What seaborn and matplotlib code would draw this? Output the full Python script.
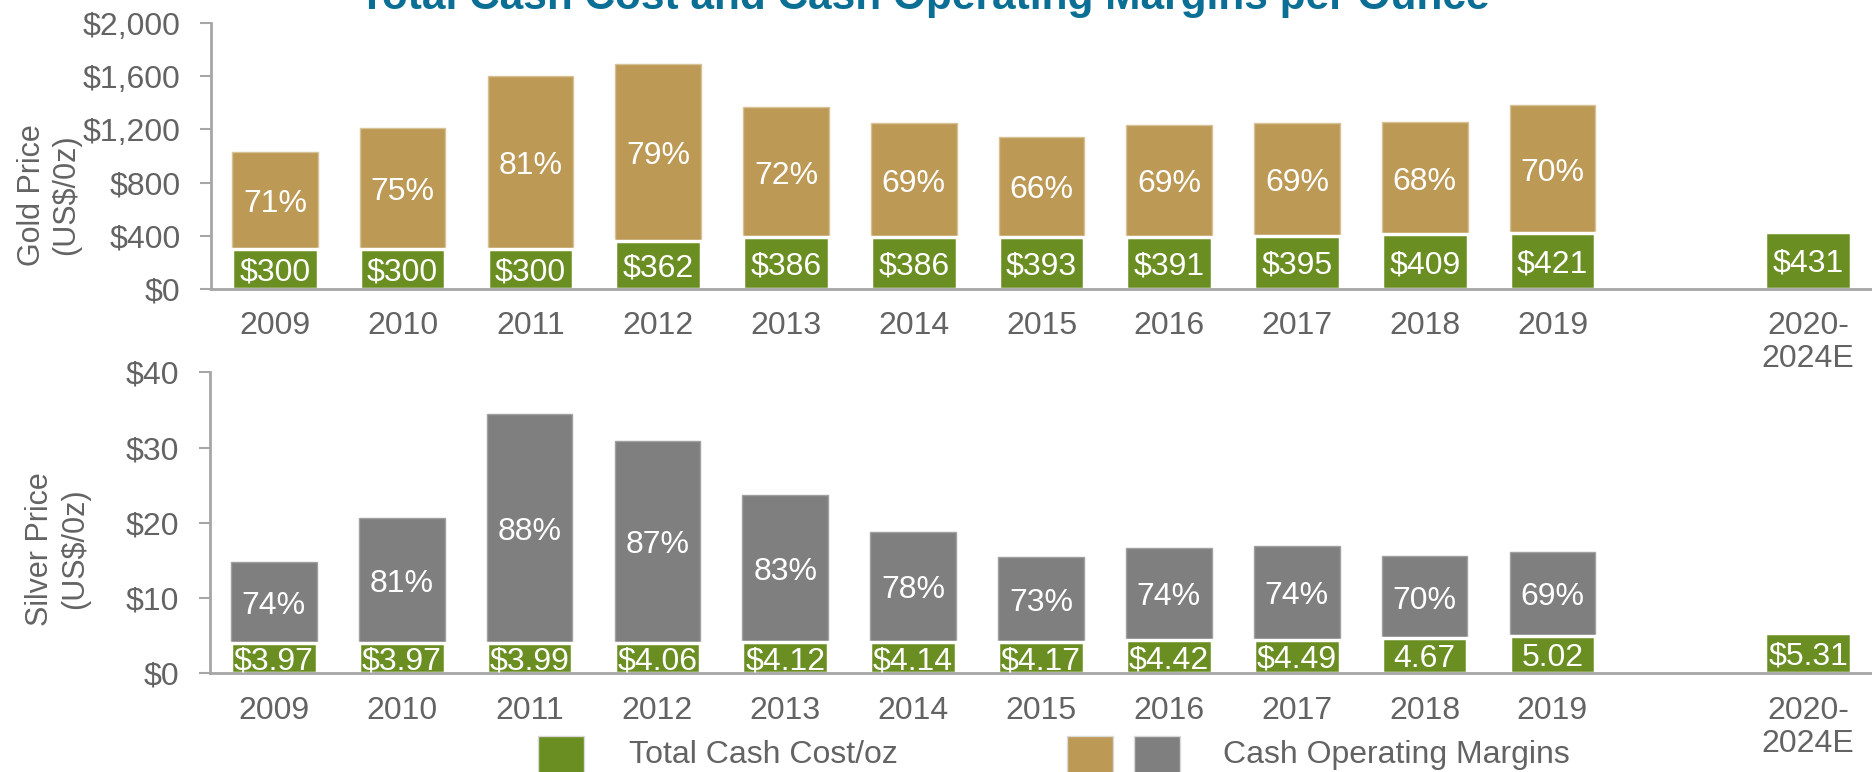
import numpy as np
import pandas as pd
import matplotlib

matplotlib.use("Agg")
import matplotlib.pyplot as plt
import seaborn as sns
from matplotlib.patches import Rectangle
from matplotlib.ticker import FuncFormatter, FixedLocator

sns.set_style("white")
plt.rcParams["font.family"] = ["Liberation Sans", "DejaVu Sans"]

# data
years = ["2009", "2010", "2011", "2012", "2013", "2014", "2015",
         "2016", "2017", "2018", "2019", " ", "2020-\n2024E"]
gold_price = [1032, 1213, 1600, 1691, 1369, 1251, 1143, 1234, 1246, 1254, 1382, np.nan, np.nan]
gold_cost = [300, 300, 300, 362, 386, 386, 393, 391, 395, 409, 421, np.nan, 431]
gold_cost_lbl = ["$300", "$300", "$300", "$362", "$386", "$386", "$393", "$391",
                 "$395", "$409", "$421", "", "$431"]
gold_margin = ["71%", "75%", "81%", "79%", "72%", "69%", "66%", "69%", "69%", "68%", "70%", "", ""]

silver_price = [14.84, 20.6, 34.4, 30.9, 23.7, 18.8, 15.4, 16.7, 16.9, 15.6, 16.1, np.nan, np.nan]
silver_cost = [3.97, 3.97, 3.99, 4.06, 4.12, 4.14, 4.17, 4.42, 4.49, 4.67, 5.02, np.nan, 5.31]
silver_cost_lbl = ["$3.97", "$3.97", "$3.99", "$4.06", "$4.12", "$4.14", "$4.17", "$4.42",
                   "$4.49", "4.67", "5.02", "", "$5.31"]
silver_margin = ["74%", "81%", "88%", "87%", "83%", "78%", "73%", "74%", "74%", "70%", "69%", "", ""]

GREEN = "#6A8E22"
GOLD = "#BC9955"
GREY = "#7F7F7F"
TXT = "#636363"
AXC = "#A6A6A6"

gold_df = pd.DataFrame({"year": years, "price": gold_price, "cost": gold_cost})
silver_df = pd.DataFrame({"year": years, "price": silver_price, "cost": silver_cost})

W, H = 1872, 772
fig = plt.figure(figsize=(W / 100, H / 100), dpi=100)
ax1 = fig.add_axes([211 / W, 1 - 288.7 / H, 1661 / W, 265.4 / H])
ax2 = fig.add_axes([210 / W, 1 - 673.3 / H, 1662 / W, 301 / H])


def draw(ax, df, top_color, top_edge, ylim, yticks, fmt, cost_lbl, margin):
    sns.barplot(data=df, x="year", y="price", order=years, color=top_color,
                width=0.67, edgecolor=top_edge, linewidth=1, saturation=1, ax=ax)
    sns.barplot(data=df, x="year", y="cost", order=years, color=GREEN,
                width=0.67, edgecolor="white", linewidth=2.5, saturation=1, ax=ax)
    ax.set_xlim(-0.5, len(years) - 0.5)
    ax.set_ylim(*ylim)
    ax.set_xlabel("")
    ax.set_yticks(yticks)
    ax.yaxis.set_major_formatter(FuncFormatter(fmt))
    ax.xaxis.set_minor_locator(FixedLocator(np.arange(-0.5, len(years), 1.0)))
    ax.tick_params(axis="x", which="major", length=0, pad=16, labelsize=23, colors=TXT)
    ax.tick_params(axis="x", which="minor", length=10, width=1.5, color=AXC, direction="out")
    ax.tick_params(axis="y", length=8, width=1.5, color=AXC, direction="out", pad=14,
                   labelsize=23, labelcolor=TXT, left=True)
    for s in ["top", "right"]:
        ax.spines[s].set_visible(False)
    for s in ["left", "bottom"]:
        ax.spines[s].set_color(AXC)
        ax.spines[s].set_linewidth(2)
    for lab in ax.get_xticklabels():
        lab.set_linespacing(1.15)
    prices = df["price"].to_numpy()
    costs = df["cost"].to_numpy()
    for i in range(len(years)):
        if not np.isnan(costs[i]):
            ax.text(i, costs[i] / 2, cost_lbl[i], ha="center", va="center_baseline",
                    color="white", fontsize=23)
        if not np.isnan(prices[i]):
            ax.text(i, (costs[i] + prices[i]) / 2, margin[i], ha="center",
                    va="center_baseline", color="white", fontsize=23)


draw(ax1, gold_df, GOLD, "#D6C296", (0, 2000), [0, 400, 800, 1200, 1600, 2000],
     lambda v, p: "${:,.0f}".format(v), gold_cost_lbl, gold_margin)
draw(ax2, silver_df, GREY, "#A0A0A0", (0, 40), [0, 10, 20, 30, 40],
     lambda v, p: "${:.0f}".format(v), silver_cost_lbl, silver_margin)

ax1.set_ylabel("Gold Price\n(US$/0z)", fontsize=22, color=TXT, va="center", linespacing=1.2)
ax1.yaxis.set_label_coords(-0.0975, 0.353)
ax2.set_ylabel("Silver Price\n(US$/0z)", fontsize=22, color=TXT, va="center", linespacing=1.2)
ax2.yaxis.set_label_coords(-0.0918, 0.413)

fig.text(924 / W, 1 - 9 / H, "Total Cash Cost and Cash Operating Margins per Ounce",
         ha="center", va="baseline", fontsize=30.5, fontweight="bold", color="#0B6E94")

# legend
for x0, c in [(538, GREEN), (1067, GOLD), (1134, GREY)]:
    fig.patches.append(Rectangle((x0 / W, 1 - 777 / H), 46 / W, 41 / H, transform=fig.transFigure,
                                 facecolor=c, edgecolor="#D9D9D9", linewidth=1))
fig.text(629 / W, 1 - 755 / H, "Total Cash Cost/oz", ha="left", va="center", fontsize=23, color=TXT)
fig.text(1223 / W, 1 - 755 / H, "Cash Operating Margins", ha="left", va="center", fontsize=23, color=TXT)

fig.savefig("out.png", dpi=100)
